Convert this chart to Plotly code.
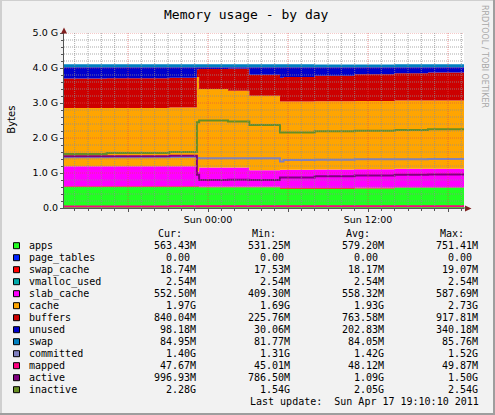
import pandas as pd
import plotly.graph_objects as go

# sample times (step data, rrd style)
times = ["2011-04-16 13:10", "2011-04-16 16:24", "2011-04-16 21:06", "2011-04-16 23:10",
         "2011-04-16 23:20", "2011-04-17 01:30", "2011-04-17 03:06", "2011-04-17 05:24",
         "2011-04-17 05:40", "2011-04-17 08:00", "2011-04-17 11:00", "2011-04-17 14:00",
         "2011-04-17 16:30", "2011-04-17 19:12"]

# stacked values, in G
apps = [0.60, 0.60, 0.60, 0.60, 0.59, 0.59, 0.59, 0.55, 0.55, 0.55, 0.56, 0.57, 0.57, 0.57]
page_tables = [0, 0, 0, 0, 0, 0, 0, 0, 0, 0, 0, 0, 0, 0]
swap_cache = [0.018, 0.018, 0.018, 0.019, 0.018, 0.018, 0.018, 0.018, 0.018, 0.018, 0.018, 0.019, 0.019, 0.019]
vmalloc_used = [0.0025, 0.0025, 0.0025, 0.0025, 0.0025, 0.0025, 0.0025, 0.0025, 0.0025, 0.0025, 0.0025, 0.0025, 0.0025, 0.0025]
slab_cache = [0.57, 0.57, 0.57, 0.42, 0.55, 0.55, 0.47, 0.52, 0.52, 0.53, 0.53, 0.53, 0.53, 0.53]
cache = [1.67, 1.67, 1.68, 2.70, 2.24, 2.19, 2.13, 1.95, 1.95, 1.95, 1.95, 1.95, 1.95, 1.96]
buffers = [0.84, 0.85, 0.85, 0.22, 0.57, 0.63, 0.60, 0.68, 0.70, 0.73, 0.76, 0.78, 0.80, 0.82]
unused = [0.32, 0.31, 0.30, 0.06, 0.05, 0.04, 0.21, 0.30, 0.28, 0.24, 0.20, 0.17, 0.15, 0.12]
swap = [0.084, 0.084, 0.084, 0.084, 0.084, 0.084, 0.084, 0.084, 0.084, 0.083, 0.083, 0.083, 0.083, 0.083]

# line values, in G
committed = [1.45, 1.45, 1.46, 1.43, 1.42, 1.42, 1.42, 1.33, 1.37, 1.38, 1.39, 1.39, 1.40, 1.40]
mapped = [0.046, 0.046, 0.047, 0.045, 0.047, 0.048, 0.048, 0.049, 0.049, 0.048, 0.048, 0.048, 0.048, 0.048]
active = [1.48, 1.48, 1.49, 0.95, 0.80, 0.81, 0.80, 0.87, 0.87, 0.91, 0.93, 0.95, 0.96, 0.98]
inactive = [1.54, 1.57, 1.60, 2.45, 2.50, 2.47, 2.37, 2.16, 2.16, 2.19, 2.21, 2.23, 2.25, 2.28]

names = ["apps", "page_tables", "swap_cache", "vmalloc_used", "slab_cache", "cache", "buffers",
         "unused", "swap", "committed", "mapped", "active", "inactive"]
colors = ["#22FF22", "#0022FF", "#FF0000", "#00AAAA", "#FF00FF", "#FFA500", "#CC0000",
          "#0000CC", "#0080C0", "#8080C0", "#FF0080", "#800080", "#688E23"]
cur = ["563.43M", "0.00", "18.74M", "2.54M", "552.50M", "1.97G", "840.04M", "98.18M", "84.95M",
       "1.40G", "47.67M", "996.93M", "2.28G"]
mins = ["531.25M", "0.00", "17.53M", "2.54M", "409.30M", "1.69G", "225.76M", "30.06M", "81.77M",
        "1.31G", "45.01M", "786.50M", "1.54G"]
avgs = ["579.20M", "0.00", "18.17M", "2.54M", "558.32M", "1.93G", "763.58M", "202.83M", "84.05M",
        "1.42G", "48.12M", "1.09G", "2.05G"]
maxs = ["751.41M", "0.00", "19.07M", "2.54M", "587.69M", "2.73G", "917.81M", "340.18M", "85.76M",
        "1.52G", "49.87M", "1.50G", "2.54G"]

y_ticks = [0, 1, 2, 3, 4, 5]
y_labels = ["0.0", "1.0 G", "2.0 G", "3.0 G", "4.0 G", "5.0 G"]
x_ticks = ["2011-04-16 18:00", "2011-04-17 00:00", "2011-04-17 06:00", "2011-04-17 12:00", "2011-04-17 18:00"]
x_labels = ["", "Sun 00:00", "", "Sun 12:00", ""]

W, H = 495, 415
PL, PR, PT, PB = 64, 464, 33, 208
MONO = "DejaVu Sans Mono"
SANS = "DejaVu Sans"


def px(x):
    return (x - PL) / (PR - PL)


def py(y):
    return (PB - y) / (PB - PT)


def label(text, x, y, xanchor="center", size=10, family=MONO, color="black", angle=0):
    return dict(text=text, x=px(x), y=py(y), xref="paper", yref="paper", xanchor=xanchor,
                yanchor="middle", textangle=angle, showarrow=False,
                font=dict(family=family, size=size, color=color))


fig = go.Figure()

stacked = [apps, page_tables, swap_cache, vmalloc_used, slab_cache, cache, buffers, unused, swap]
for name, col, vals in zip(names[:9], colors[:9], stacked):
    fig.add_trace(go.Scatter(x=times, y=vals, name=name, mode="lines", stackgroup="one",
                             line=dict(width=0, shape="hv"), fillcolor=col))

for name, col, vals in zip(names[9:], colors[9:], [committed, mapped, active, inactive]):
    fig.add_trace(go.Scatter(x=times, y=vals, name=name, mode="lines",
                             line=dict(width=2, shape="hv", color=col)))

shapes = []
# grid drawn over the data, like rrdtool
minor_c = "rgba(143,143,143,0.75)"
major_c = "rgba(222,79,79,0.6)"
for i in range(1, 26):
    v = i * 0.2
    shapes.append(dict(type="line", xref="paper", yref="y", x0=0, x1=1, y0=v, y1=v, layer="above",
                       line=dict(color=major_c if i % 5 == 0 else minor_c, width=1, dash="1px,1px")))
for t in pd.date_range("2011-04-16 14:00", "2011-04-17 19:00", freq="h"):
    shapes.append(dict(type="line", xref="x", yref="paper", x0=t, x1=t, y0=0, y1=1, layer="above",
                       line=dict(color=major_c if t.hour % 6 == 0 else minor_c, width=1, dash="1px,1px")))

# arrows
arrow = "#801F1F"
shapes.append(dict(type="path", xref="paper", yref="paper", layer="above", fillcolor=arrow,
                   line=dict(width=0),
                   path=f"M {px(465)} {py(205.5)} L {px(471.5)} {py(208.5)} L {px(465)} {py(211.5)} Z"))
shapes.append(dict(type="path", xref="paper", yref="paper", layer="above", fillcolor=arrow,
                   line=dict(width=0),
                   path=f"M {px(61)} {py(33.5)} L {px(64)} {py(27.5)} L {px(67)} {py(33.5)} Z"))
shapes.append(dict(type="line", xref="paper", yref="paper", x0=px(PR), x1=px(466), y0=0, y1=0,
                   line=dict(color="#555", width=1)))

# frame shading
shapes += [
    dict(type="line", xref="paper", yref="paper", x0=px(0), x1=px(W), y0=py(0.5), y1=py(0.5),
         line=dict(color="#CFCFCF", width=1)),
    dict(type="line", xref="paper", yref="paper", x0=px(1), x1=px(1), y0=py(0), y1=py(H),
         line=dict(color="#CFCFCF", width=2)),
    dict(type="line", xref="paper", yref="paper", x0=px(W - 1), x1=px(W - 1), y0=py(0), y1=py(H),
         line=dict(color="#9E9E9E", width=2)),
    dict(type="line", xref="paper", yref="paper", x0=px(0), x1=px(W), y0=py(H - 1), y1=py(H - 1),
         line=dict(color="#9E9E9E", width=2)),
]

ann = [
    label("Memory usage - by day", 246.5, 14, size=13),
    label("Bytes", 10.7, 120, family=SANS, angle=-90),
    label("RRDTOOL / TOBI OETIKER", 485, 56, family=SANS, size=8, color="#A8A8A8", angle=90),
]

# legend table
col_ends = [198.3, 292.3, 386.0, 480.3]
for head, xe in zip(["Cur:", "Min:", "Avg:", "Max:"], col_ends):
    ann.append(label(head, xe - 14.3, 233.3, xanchor="right"))
for i, name in enumerate(names):
    yc = 245.7 + 12 * i
    shapes.append(dict(type="rect", xref="paper", yref="paper", x0=px(13.5), x1=px(19.5),
                       y0=py(yc + 3), y1=py(yc - 3), fillcolor=colors[i],
                       line=dict(color="black", width=1)))
    ann.append(label(name, 26.7, yc, xanchor="left"))
    for vals, xe in zip([cur, mins, avgs, maxs], col_ends):
        s = vals[i]
        off = 0 if s[-1] in "MG" else 6.02
        ann.append(label(s, xe - off, yc, xanchor="right"))
ann.append(label("Last update:  Sun Apr 17 19:10:10 2011", 480.7, 401.7, xanchor="right"))

fig.update_layout(
    width=W, height=H,
    margin=dict(l=PL, r=W - PR, t=PT, b=H - PB, pad=0),
    paper_bgcolor="#F2F2F2", plot_bgcolor="white",
    showlegend=False,
    shapes=shapes, annotations=ann,
    xaxis=dict(type="date", range=["2011-04-16 13:12", "2011-04-17 19:12"],
               tickvals=x_ticks, ticktext=x_labels, showgrid=False, zeroline=False,
               showline=True, linecolor="#555", linewidth=1, ticks="outside", ticklen=3,
               tickcolor="#555", tickfont=dict(family=SANS, size=9.5, color="black"),
               minor=dict(tickmode="linear", tick0="2011-04-16 00:00", dtick=3600000,
                          ticks="outside", ticklen=2, tickcolor="#555"),
               layer="above traces", fixedrange=True),
    yaxis=dict(range=[0, 5], tickvals=y_ticks, ticktext=y_labels, showgrid=False, zeroline=False,
               showline=True, linecolor="#555", linewidth=1, ticks="outside", ticklen=3,
               tickcolor="#555", tickfont=dict(family=SANS, size=9.5, color="black"),
               minor=dict(dtick=0.2, ticks="outside", ticklen=2, tickcolor="#555"),
               layer="above traces", fixedrange=True),
)

fig.write_html("out.html", config={"displayModeBar": False},
               post_script="document.body.style.margin='0';")
